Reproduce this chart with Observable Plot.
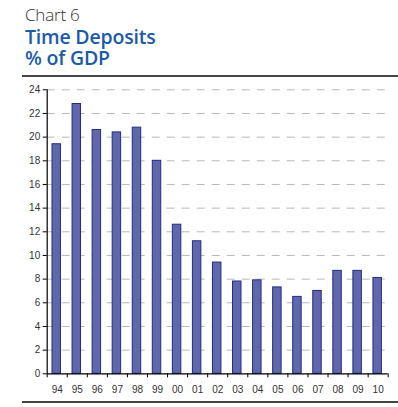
<!DOCTYPE html>
<html>
<head>
<meta charset="utf-8">
<script src="https://cdn.jsdelivr.net/npm/d3@7"></script>
<script src="https://cdn.jsdelivr.net/npm/@observablehq/plot@0.6"></script>
<style>
  html, body { margin: 0; padding: 0; background: #fff; }
  #wrap { position: relative; width: 398px; height: 407px; overflow: hidden; font-family: "Open Sans", "Noto Sans", sans-serif; }
  .t { position: absolute; left: 25px; white-space: nowrap; letter-spacing: -0.2px; }
  #kicker { top: 6px; font-size: 17px; line-height: 17px; font-weight: 300; color: #333; }
  #title1 { top: 26.5px; font-size: 19.5px; line-height: 19.5px; font-weight: 600; color: #1a5aab; }
  #title2 { top: 48.3px; font-size: 19.5px; line-height: 19.5px; font-weight: 600; color: #1a5aab; }
  #ruleTop { position: absolute; left: 22px; top: 75px; width: 376px; height: 2px; background: #444; }
  #ruleBot { position: absolute; left: 22px; top: 401px; width: 376px; height: 2px; background: #444; }
  #chart { position: absolute; left: 0; top: 78px; }
</style>
</head>
<body>
<div id="wrap">
  <div id="kicker" class="t">Chart 6</div>
  <div id="title1" class="t">Time Deposits</div>
  <div id="title2" class="t">% of GDP</div>
  <div id="ruleTop"></div>
  <div id="chart"></div>
  <div id="ruleBot"></div>
</div>
<script>
const years = ["94","95","96","97","98","99","00","01","02","03","04","05","06","07","08","09","10"];
const values = [19.4, 22.8, 20.6, 20.4, 20.8, 18.0, 12.6, 11.2, 9.4, 7.8, 7.9, 7.3, 6.5, 7.0, 8.7, 8.7, 8.1];
const yTicks = [0, 2, 4, 6, 8, 10, 12, 14, 16, 18, 20, 22, 24];
const gridTicks = yTicks.filter(t => t > 0);

const data = years.map((y, i) => ({year: y, i, value: values[i]}));
const boundaries = d3.range(years.length + 1);
const centers = years.map((_, i) => i + 0.5);

const font = '"Liberation Sans Narrow", "Liberation Sans", Arial, sans-serif';

const plot = Plot.plot({
  width: 398,
  height: 322,
  marginTop: 11.3,
  marginBottom: 26.7,
  marginLeft: 46.7,
  marginRight: 10.3,
  style: { fontFamily: font, fontSize: "10px", color: "#333", background: "transparent" },
  x: { type: "linear", domain: [0, years.length], axis: null, label: null },
  y: { domain: [0, 24], axis: null, label: null },
  marks: [
    Plot.gridY(gridTicks, { stroke: "#b8b8b8", strokeOpacity: 1, strokeWidth: 1, strokeDasharray: "8,7" }),
    Plot.rectY(data, {
      x1: d => d.i, x2: d => d.i + 1, y: "value",
      insetLeft: 5.3, insetRight: 6.3,
      fill: "#6068ab", stroke: "#1f2c8a", strokeWidth: 1
    }),
    Plot.axisY(yTicks, { anchor: "left", label: null, tickSize: 4, tickPadding: 3, stroke: "#000", fill: "#333", fontSize: 10 }),
    Plot.axisX(boundaries, { anchor: "bottom", label: null, tickSize: 4, tickFormat: () => "", stroke: "#000" }),
    Plot.axisX(centers, { anchor: "bottom", label: null, tickSize: 0, tickPadding: 12.5, tickFormat: d => years[Math.round(d - 0.5)], fill: "#333", fontSize: 10 }),
    Plot.ruleX([0], { y1: 0, y2: 24, stroke: "#000", strokeWidth: 1.2 }),
    Plot.ruleY([0], { stroke: "#000", strokeWidth: 1.2 })
  ]
});
document.getElementById("chart").appendChild(plot);
</script>
</body>
</html>
